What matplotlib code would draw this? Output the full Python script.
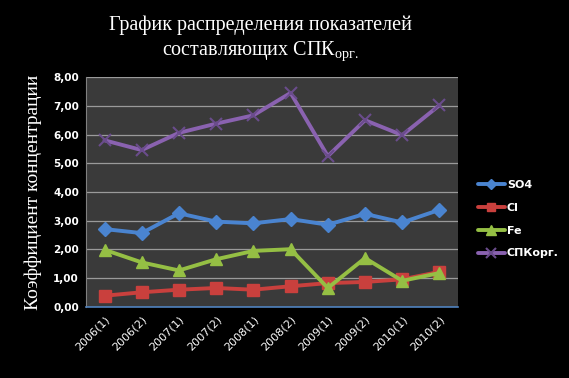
import matplotlib
matplotlib.use("Agg")
import matplotlib.pyplot as plt
from matplotlib.lines import Line2D

categories = ["2006(1)", "2006(2)", "2007(1)", "2007(2)", "2008(1)",
              "2008(2)", "2009(1)", "2009(2)", "2010(1)", "2010(2)"]
so4 = [2.71, 2.57, 3.26, 2.97, 2.91, 3.06, 2.86, 3.24, 2.94, 3.38]
cl = [0.39, 0.51, 0.60, 0.66, 0.60, 0.72, 0.83, 0.87, 0.96, 1.22]
fe = [1.99, 1.55, 1.27, 1.66, 1.95, 2.01, 0.66, 1.70, 0.91, 1.18]
spk = [5.80, 5.46, 6.06, 6.38, 6.67, 7.45, 5.25, 6.50, 5.98, 7.02]
yticks = [0, 1, 2, 3, 4, 5, 6, 7, 8]
ytick_labels = ["0,00", "1,00", "2,00", "3,00", "4,00", "5,00", "6,00", "7,00", "8,00"]

plt.rcParams['mathtext.fontset'] = 'custom'
plt.rcParams['mathtext.rm'] = 'Liberation Serif'

fig = plt.figure(figsize=(5.69, 3.78), dpi=100, facecolor="black")
ax = fig.add_axes([0.151, 0.188, 0.654, 0.608])
ax.set_facecolor("#3a3a3a")

x = list(range(len(categories)))
series = [
    ("SO4", so4, "#4a84d0", "D", 7, "#4a84d0"),
    ("Cl", cl, "#c9403d", "s", 8, "#c9403d"),
    ("Fe", fe, "#95bf44", "^", 9, "#95bf44"),
    ("СПКорг.", spk, "#8a62b0", "x", 9, "#6a4c8c"),
]
handles = []
for name, vals, col, mk, ms, mcol in series:
    kw = dict(color=col, lw=2.8, marker=mk, markersize=ms, solid_capstyle="round")
    if mk == "x":
        kw.update(markeredgewidth=1.5, markeredgecolor=mcol)
    else:
        kw.update(markerfacecolor=col, markeredgecolor=col)
    ax.plot(x, vals, zorder=3, **kw)
    hkw = dict(kw)
    hkw["markersize"] = ms * 0.75
    handles.append(Line2D([0], [0], label=name, **hkw))

ax.set_xlim(-0.5, len(categories) - 0.5)
ax.set_ylim(0, 8)
ax.set_yticks(yticks)
ax.set_yticklabels(ytick_labels, color="white", fontsize=7.5, fontweight="bold", family="DejaVu Sans")
ax.set_xticks(x)
ax.set_xticklabels(categories, rotation=45, ha="right", rotation_mode="anchor",
                   color="white", fontsize=8, family="DejaVu Sans")
ax.tick_params(axis="both", length=0, pad=5)
ax.grid(axis="y", color="#9a9a9a", lw=0.9)
ax.set_axisbelow(True)
for s in ["top", "right"]:
    ax.spines[s].set_visible(False)
ax.spines["left"].set_color("#808080")
ax.spines["bottom"].set_color("#4f81bd")
ax.spines["bottom"].set_linewidth(1.2)

ax.set_ylabel("Коэффициент концентрации", color="white", fontsize=14,
              family="Liberation Serif", labelpad=8)

fig.text(0.458, 0.932, "График распределения показателей", ha="center", va="center",
         color="white", fontsize=14.5, family="Liberation Serif")
fig.text(0.458, 0.866, "составляющих СПК$_{\\mathregular{орг.}}$", ha="center", va="center",
         color="white", fontsize=14.5, family="Liberation Serif")

leg = fig.legend(handles=handles, loc="center left", bbox_to_anchor=(0.84, 0.42),
                 frameon=False, labelcolor="white", handlelength=2.4,
                 prop={"size": 8, "weight": "bold", "family": "DejaVu Sans"},
                 labelspacing=1.15, handletextpad=0.2, borderpad=0, borderaxespad=0)

fig.savefig("out.png", dpi=100, facecolor="black")
